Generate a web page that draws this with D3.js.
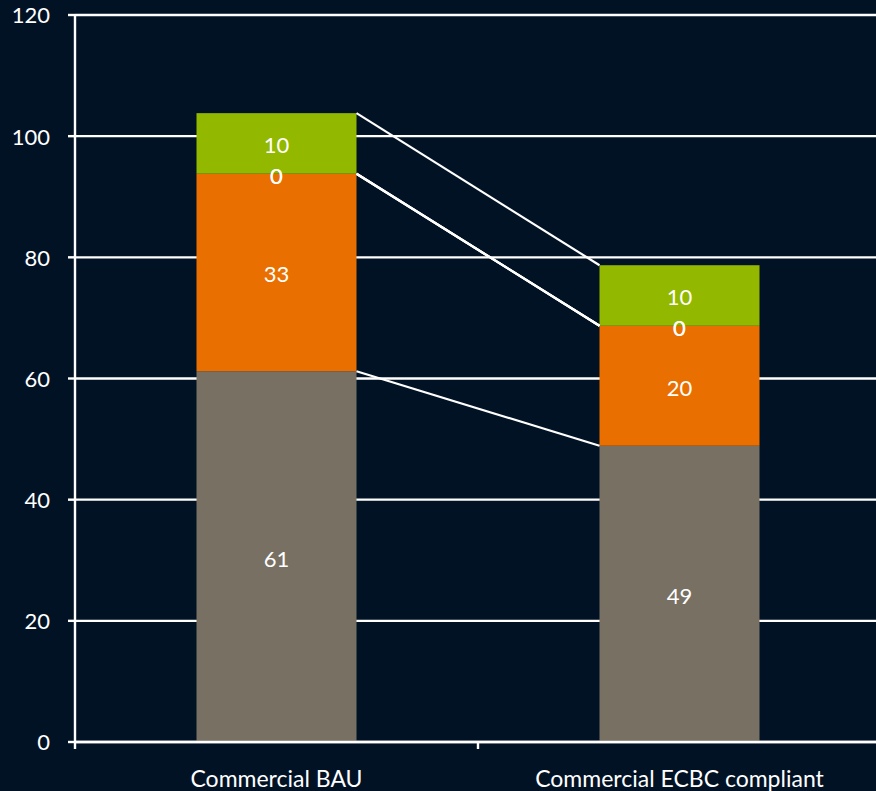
<!DOCTYPE html>
<html>
<head>
<meta charset="utf-8">
<script src="https://cdn.jsdelivr.net/npm/d3@7"></script>
<style>
  html, body { margin: 0; padding: 0; background: #011225; }
  svg { display: block; }
  text { font-family: Lato, "Open Sans", sans-serif; fill: #fff; }
</style>
</head>
<body>
<svg id="chart" width="876" height="791"></svg>
<script>
// categories and stacked series, bottom to top
var categories = ["Commercial BAU", "Commercial ECBC compliant"];
var seriesNames = ["base", "cooling", "extraA", "extraB", "other"];
var base    = [61.2, 48.9];
var cooling = [32.6, 19.8];
var extraA  = [0, 0];
var extraB  = [0, 0];
var other   = [10.0, 10.0];
var yTicks  = [0, 20, 40, 60, 80, 100, 120];
var colors  = ["#787063", "#e97000", "#e97000", "#e97000", "#93b800"];

var svg = d3.select('#chart');
var mLeft = 75, mRight = 881, mTop = 15, mBottom = 742;

var x = d3.scaleBand().domain(categories).range([mLeft, mRight]).paddingInner(0).paddingOuter(0);
var y = d3.scaleLinear().domain([0, 120]).range([mBottom, mTop]);
var barW = 160;

var rows = categories.map(function(c, i) {
  return { cat: c, base: base[i], cooling: cooling[i], extraA: extraA[i], extraB: extraB[i], other: other[i] };
});
var stack = d3.stack().keys(seriesNames)(rows);

// gridlines
svg.append('g').selectAll('line').data(yTicks).enter().append('line')
  .attr('x1', mLeft).attr('x2', 876)
  .attr('y1', function(d) { return y(d); }).attr('y2', function(d) { return y(d); })
  .attr('stroke', '#fff').attr('stroke-width', 2.4);

// bars
var layers = svg.append('g').selectAll('g.layer').data(stack).enter().append('g')
  .attr('fill', function(d, i) { return colors[i]; });
layers.selectAll('rect').data(function(d) { return d; }).enter().append('rect')
  .attr('x', function(d) { return x(d.data.cat) + (x.bandwidth() - barW) / 2; })
  .attr('width', barW)
  .attr('y', function(d) { return y(d[1]); })
  .attr('height', function(d) { return y(d[0]) - y(d[1]); });

// series connector lines (top of each series)
stack.forEach(function(s) {
  svg.append('line')
    .attr('x1', x(categories[0]) + (x.bandwidth() + barW) / 2)
    .attr('y1', y(s[0][1]))
    .attr('x2', x(categories[1]) + (x.bandwidth() - barW) / 2)
    .attr('y2', y(s[1][1]))
    .attr('stroke', '#fff').attr('stroke-width', 2.2);
});

// value labels
stack.forEach(function(s) {
  s.forEach(function(d) {
    var v = d[1] - d[0];
    svg.append('text')
      .attr('x', x(d.data.cat) + x.bandwidth() / 2)
      .attr('y', y((d[0] + d[1]) / 2))
      .attr('dy', '0.45em')
      .attr('text-anchor', 'middle')
      .attr('font-size', 22)
      .text(Math.round(v));
  });
});

// y axis
svg.append('line').attr('x1', mLeft).attr('x2', mLeft).attr('y1', mTop).attr('y2', mBottom)
  .attr('stroke', '#fff').attr('stroke-width', 2.4);
svg.append('g').selectAll('line').data(yTicks).enter().append('line')
  .attr('x1', 68).attr('x2', mLeft)
  .attr('y1', function(d) { return y(d); }).attr('y2', function(d) { return y(d); })
  .attr('stroke', '#fff').attr('stroke-width', 2.4);
svg.append('g').selectAll('text').data(yTicks).enter().append('text')
  .attr('x', 50).attr('y', function(d) { return y(d); })
  .attr('dy', '0.38em').attr('text-anchor', 'end').attr('font-size', 22)
  .text(function(d) { return d; });

// x axis
svg.append('line').attr('x1', mLeft).attr('x2', 876).attr('y1', mBottom).attr('y2', mBottom)
  .attr('stroke', '#fff').attr('stroke-width', 2.4);
svg.append('g').selectAll('line').data([mLeft, x(categories[1])]).enter().append('line')
  .attr('x1', function(d) { return d; }).attr('x2', function(d) { return d; })
  .attr('y1', mBottom).attr('y2', mBottom + 7)
  .attr('stroke', '#fff').attr('stroke-width', 2.4);
svg.append('g').selectAll('text').data(categories).enter().append('text')
  .attr('x', function(d) { return x(d) + x.bandwidth() / 2; })
  .attr('y', 778).attr('dy', '0.38em').attr('text-anchor', 'middle').attr('font-size', 23)
  .text(function(d) { return d; });
</script>
</body>
</html>
